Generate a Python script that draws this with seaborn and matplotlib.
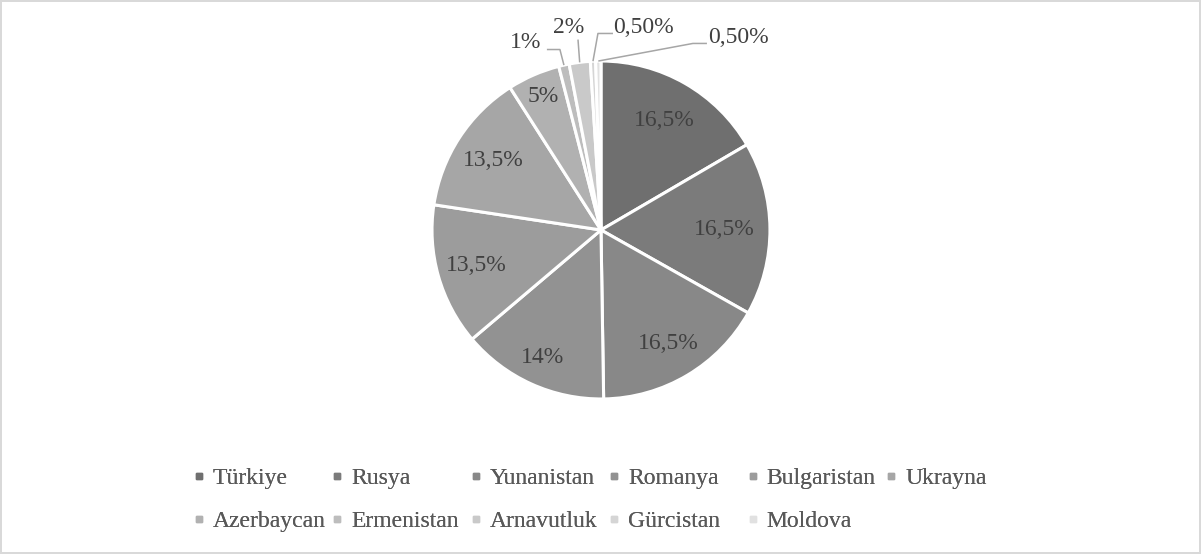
import numpy as np
import matplotlib
matplotlib.use("Agg")
import matplotlib.pyplot as plt
import seaborn as sns
from matplotlib.lines import Line2D

sns.set_theme(style="white")
plt.rcParams['font.family'] = ['Liberation Serif', 'DejaVu Serif']

# data
countries = ['Türkiye', 'Rusya', 'Yunanistan', 'Romanya', 'Bulgaristan', 'Ukrayna',
             'Azerbaycan', 'Ermenistan', 'Arnavutluk', 'Gürcistan', 'Moldova']
shares = [16.5, 16.5, 16.5, 14, 13.5, 13.5, 5, 1, 2, 0.5, 0.5]
pct_labels = ['16,5%', '16,5%', '16,5%', '14%', '13,5%', '13,5%', '5%', '1%', '2%', '0,50%', '0,50%']

# styling
colors = ['#6f6f6f', '#7b7b7b', '#888888', '#929292', '#9c9c9c', '#a6a6a6',
          '#b1b1b1', '#bdbdbd', '#c9c9c9', '#d5d5d5', '#e1e1e1']
inner_r = [0.75, 0.73, 0.78, 0.83, 0.77, 0.76, 0.86]
# outside labels: text position and leader line elbow/end points (axes data units)
outside_text = {7: (-0.444, 1.109), 8: (-0.189, 1.198), 9: (0.249, 1.198), 10: (0.811, 1.139)}
outside_line = {7: [(-0.243, 1.068), (-0.320, 1.068)],
                8: [(-0.136, 1.127)],
                9: [(-0.018, 1.163), (0.071, 1.163)],
                10: [(0.544, 1.104), (0.627, 1.104)]}
fs = 17

fig = plt.figure(figsize=(12.01, 5.54), dpi=100, edgecolor='#d9d9d9', linewidth=1.5)
ax = fig.add_axes([0.3597, 0.2798, 0.2814, 0.6101])

wedges, _ = ax.pie(shares, colors=colors, startangle=90, counterclock=False,
                   wedgeprops=dict(edgecolor='white', linewidth=2.2))
ax.set_xlim(-1, 1)
ax.set_ylim(-1, 1)
ax.set_aspect('equal')
ax.axis('off')

for i, w in enumerate(wedges):
    mid = np.deg2rad((w.theta1 + w.theta2) / 2)
    if i in outside_text:
        pts = [(np.cos(mid), np.sin(mid))] + outside_line[i]
        xs, ys = zip(*pts)
        ax.plot(xs, ys, color='#a6a6a6', lw=1.1, solid_capstyle='butt', clip_on=False)
        tx, ty = outside_text[i]
        ax.text(tx, ty, pct_labels[i], ha='center', va='center', fontsize=fs, color='#404040')
    else:
        r = inner_r[i]
        ax.text(r * np.cos(mid), r * np.sin(mid), pct_labels[i], ha='center', va='center',
                fontsize=fs, color='#404040')

# legend: 6 equal-width columns, two rows (one legend per column)
ncol = 6
col_w = 138.5 / 1201
for c in range(ncol):
    idx = list(range(c, len(countries), ncol))
    handles = [Line2D([], [], marker='s', linestyle='none', markersize=5,
                      markerfacecolor=colors[j], markeredgecolor=colors[j]) for j in idx]
    leg = fig.legend(handles, [countries[j] for j in idx], frameon=False,
                     loc='upper left', bbox_to_anchor=(0.1605 + c * col_w, 0.156), fontsize=fs,
                     handlelength=0.5, handletextpad=0.35, labelspacing=0.9,
                     borderaxespad=0, borderpad=0)
    for t in leg.get_texts():
        t.set_color('#595959')
    fig.add_artist(leg)

fig.savefig('out.png', dpi=100)
